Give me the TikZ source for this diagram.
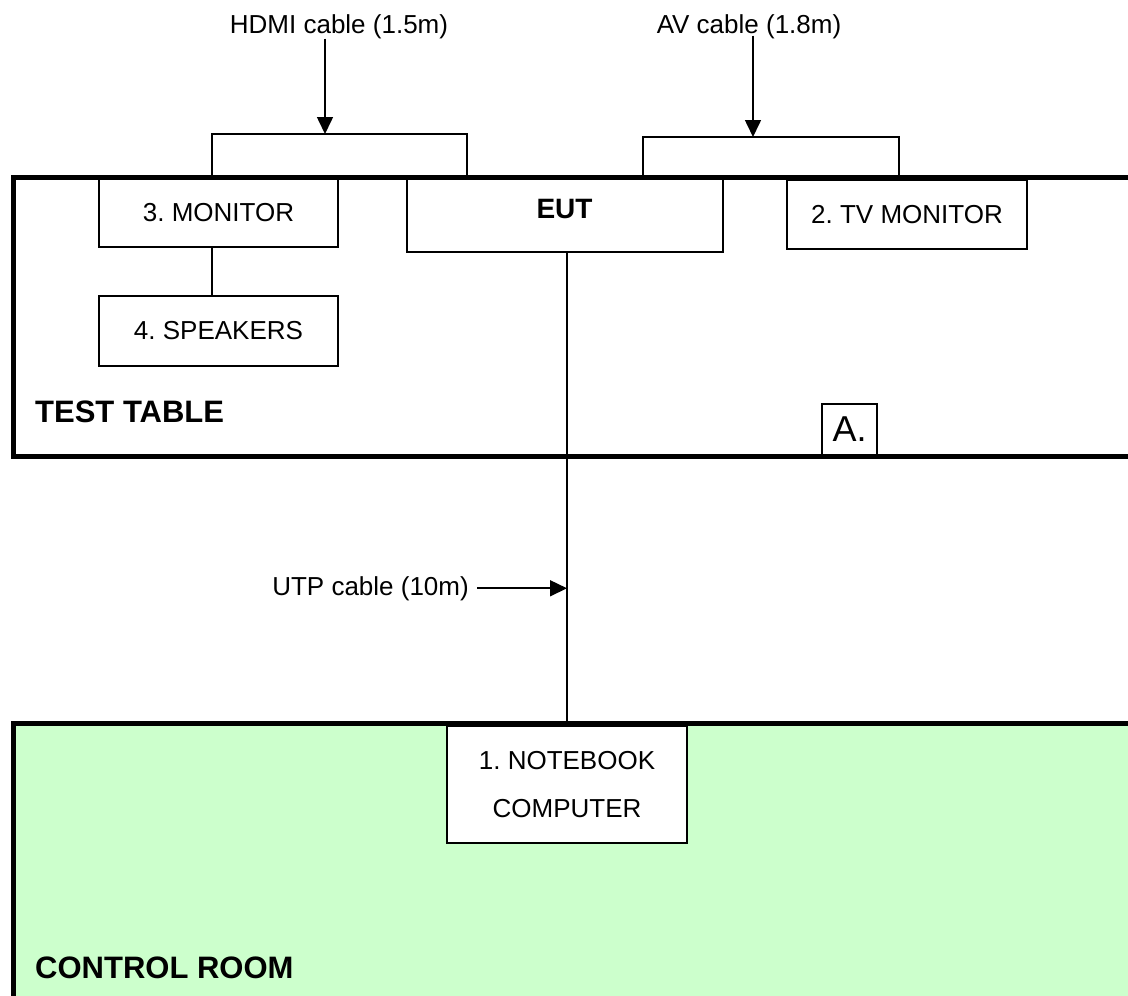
\documentclass[tikz,border=0pt]{standalone}
\usepackage{fontspec}
\setmainfont{Liberation Sans}
\frenchspacing
\usetikzlibrary{arrows.meta}
\definecolor{roomgreen}{HTML}{CCFFCC}
\tikzset{
  thin line/.style={line width=1.6pt},
  thick border/.style={line width=5pt},
  box/.style={draw, line width=1.6pt, fill=white, inner sep=0pt, align=center,
    font=\fontsize{26}{48}\selectfont},
  lbl/.style={inner sep=0pt, font=\fontsize{26}{31}\selectfont},
  bold lbl/.style={inner sep=0pt, font=\bfseries\fontsize{31}{36}\selectfont},
  arr/.style={line width=1.6pt, -{Triangle[width=16pt,length=17pt]}},
}
\begin{document}
\begin{tikzpicture}[x=1pt,y=-1pt]
\useasboundingbox (0,0) rectangle (1128,996);
% control room background
\fill[roomgreen] (13,723) rectangle (1140,1010);
% boxes
\node[box, minimum width=239pt, minimum height=69pt] (mon) at (218.5,212.5) {3. MONITOR};
\node[box, minimum width=316pt, minimum height=73pt] (eut) at (565,215.5) {};
\node[inner sep=0pt, anchor=base, font=\bfseries\fontsize{28}{32}\selectfont] (euttext) at (564.5,218) {EUT};
\node[box, minimum width=240pt, minimum height=69pt] (tv) at (907,214.5) {2. TV MONITOR};
\node[box, minimum width=239pt, minimum height=70pt] (spk) at (218.5,331) {4. SPEAKERS};
\node[box, minimum width=55pt, minimum height=51pt, font=\fontsize{36}{40}\selectfont] (abox) at (849.5,429.5) {A.};
\node[box, minimum width=240pt, minimum height=117pt] (nb) at (567,784.5) {1. NOTEBOOK\\COMPUTER};
% room borders
\draw[thick border] (1140,177) -- (13,177) -- (13,456) -- (1140,456);
\draw[thick border] (1140,723.5) -- (13,723.5) -- (13,1010);
% labels
\node[lbl, anchor=base] (hdmi) at (339,33) {HDMI cable (1.5m)};
\node[lbl, anchor=base] (av) at (749,33) {AV cable (1.8m)};
\node[lbl, anchor=base east] (utp) at (469,595) {UTP cable (10m)};
\node[bold lbl, anchor=base west] (tt) at (35,422) {TEST TABLE};
\node[bold lbl, anchor=base west] (cr) at (35,978) {CONTROL ROOM};
% bracket coordinates
\coordinate (hL) at (212,177);
\coordinate (hT) at (325,134);
\coordinate (hR) at (467,177);
\coordinate (aL) at (643,177);
\coordinate (aT) at (753,137);
\coordinate (aR) at (899,177);
% HDMI cable
\draw[thin line] (hL) |- (hT) -| (hR);
\draw[arr] (hdmi.south -| hT) -- (hT);
% AV cable
\draw[thin line] (aL) |- (aT) -| (aR);
\draw[arr] ([yshift=3pt]av.south -| aT) -- (aT);
% monitor to speakers
\draw[thin line] (mon.south -| hL) -- (spk.north -| hL);
% EUT to notebook (UTP)
\draw[thin line] (eut.south -| nb.north) -- (nb.north);
\draw[arr] ([xshift=8pt]utp.east) -- (utp.east -| nb.north);
\end{tikzpicture}
\end{document}
